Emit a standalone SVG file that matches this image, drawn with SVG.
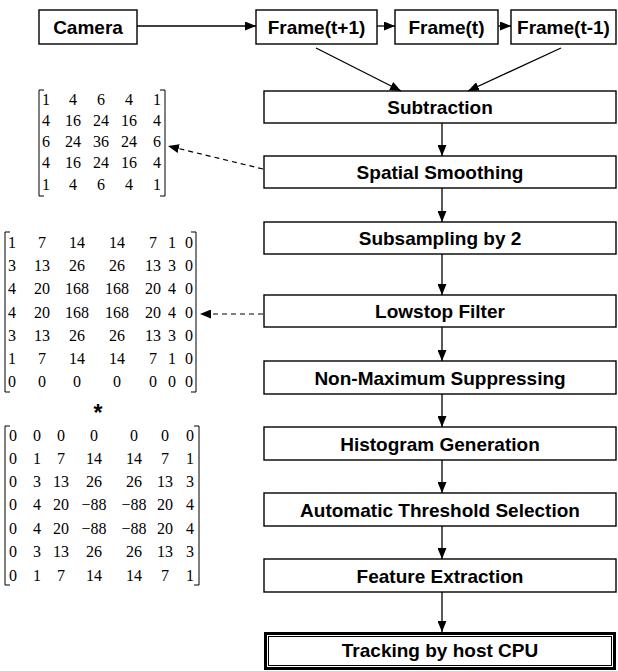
<svg xmlns="http://www.w3.org/2000/svg" width="618" height="671" viewBox="0 0 618 671">
  <style>
    .box { fill: #ffffff; stroke: #000000; stroke-width: 1.4; }
    .lbl { font-family: "Liberation Sans", Arial, sans-serif; font-weight: bold; font-size: 19px; fill: #000000; text-anchor: middle; }
    .m { font-family: "Liberation Serif", "Times New Roman", serif; font-size: 16px; fill: #000000; text-anchor: middle; }
    .br { fill: none; stroke: #000000; stroke-width: 1; }
    .wire { fill: none; stroke: #000000; stroke-width: 1.3; }
    .dash { fill: none; stroke: #000000; stroke-width: 1.2; stroke-dasharray: 5 4; }
  </style>
  <defs>
    <marker id="arr" markerUnits="userSpaceOnUse" markerWidth="11" markerHeight="9" refX="11" refY="4.5" orient="auto">
      <path d="M0,0 L11,4.5 L0,9 z" fill="#000000"/>
    </marker>
  </defs>

  <rect width="618" height="671" fill="#ffffff"/>

  <!-- input stage -->
  <g id="camera">
    <rect class="box" x="39" y="10" width="98" height="34"/>
    <text class="lbl" x="88" y="34">Camera</text>
  </g>
  <g id="frame-t-plus-1">
    <rect class="box" x="256" y="10" width="121" height="34"/>
    <text class="lbl" x="316.5" y="34">Frame(t+1)</text>
  </g>
  <g id="frame-t">
    <rect class="box" x="395" y="10" width="103" height="34"/>
    <text class="lbl" x="446.5" y="34">Frame(t)</text>
  </g>
  <g id="frame-t-minus-1">
    <rect class="box" x="511" y="10" width="105" height="34"/>
    <text class="lbl" x="563.5" y="34">Frame(t-1)</text>
  </g>

  <!-- processing pipeline -->
  <g id="subtraction">
    <rect class="box" x="264" y="91" width="352" height="32"/>
    <text class="lbl" x="440" y="114">Subtraction</text>
  </g>
  <g id="spatial-smoothing">
    <rect class="box" x="264" y="156" width="352" height="32"/>
    <text class="lbl" x="440" y="179">Spatial Smoothing</text>
  </g>
  <g id="subsampling">
    <rect class="box" x="264" y="222" width="352" height="32"/>
    <text class="lbl" x="440" y="245">Subsampling by 2</text>
  </g>
  <g id="lowstop-filter">
    <rect class="box" x="264" y="295" width="352" height="32"/>
    <text class="lbl" x="440" y="318">Lowstop Filter</text>
  </g>
  <g id="non-maximum">
    <rect class="box" x="264" y="361" width="352" height="33"/>
    <text class="lbl" x="440" y="384.5">Non-Maximum Suppressing</text>
  </g>
  <g id="histogram">
    <rect class="box" x="264" y="427" width="352" height="33"/>
    <text class="lbl" x="440" y="450.5">Histogram Generation</text>
  </g>
  <g id="threshold">
    <rect class="box" x="264" y="493" width="352" height="33"/>
    <text class="lbl" x="440" y="516.5">Automatic Threshold Selection</text>
  </g>
  <g id="feature-extraction">
    <rect class="box" x="264" y="559" width="352" height="33"/>
    <text class="lbl" x="440" y="582.5">Feature Extraction</text>
  </g>
  <g id="tracking">
    <rect x="265.5" y="633.5" width="349" height="35" fill="#ffffff" stroke="#000000" stroke-width="3"/>
    <rect x="268.5" y="636.5" width="343" height="29" fill="none" stroke="#000000" stroke-width="1"/>
    <text class="lbl" x="440" y="657">Tracking by host CPU</text>
  </g>

  <!-- smoothing kernel -->
  <g id="smoothing-kernel">
    <path class="br" d="M44,90 H39 V196 H44 M160,90 H165 V196 H160"/>
    <text class="m" y="105"><tspan x="46">1</tspan><tspan x="73">4</tspan><tspan x="101">6</tspan><tspan x="129">4</tspan><tspan x="157">1</tspan></text>
    <text class="m" y="126"><tspan x="46">4</tspan><tspan x="73">16</tspan><tspan x="101">24</tspan><tspan x="129">16</tspan><tspan x="157">4</tspan></text>
    <text class="m" y="147"><tspan x="46">6</tspan><tspan x="73">24</tspan><tspan x="101">36</tspan><tspan x="129">24</tspan><tspan x="157">6</tspan></text>
    <text class="m" y="168"><tspan x="46">4</tspan><tspan x="73">16</tspan><tspan x="101">24</tspan><tspan x="129">16</tspan><tspan x="157">4</tspan></text>
    <text class="m" y="190"><tspan x="46">1</tspan><tspan x="73">4</tspan><tspan x="101">6</tspan><tspan x="129">4</tspan><tspan x="157">1</tspan></text>
  </g>

  <!-- lowstop kernel, first operand -->
  <g id="lowstop-kernel-a">
    <path class="br" d="M10,232 H5 V392 H10 M191,232 H196 V392 H191"/>
    <text class="m" y="248"><tspan x="12">1</tspan><tspan x="42">7</tspan><tspan x="77">14</tspan><tspan x="117">14</tspan><tspan x="153">7</tspan><tspan x="172">1</tspan><tspan x="189">0</tspan></text>
    <text class="m" y="271"><tspan x="12">3</tspan><tspan x="42">13</tspan><tspan x="77">26</tspan><tspan x="117">26</tspan><tspan x="153">13</tspan><tspan x="172">3</tspan><tspan x="189">0</tspan></text>
    <text class="m" y="294"><tspan x="12">4</tspan><tspan x="42">20</tspan><tspan x="77">168</tspan><tspan x="117">168</tspan><tspan x="153">20</tspan><tspan x="172">4</tspan><tspan x="189">0</tspan></text>
    <text class="m" y="318"><tspan x="12">4</tspan><tspan x="42">20</tspan><tspan x="77">168</tspan><tspan x="117">168</tspan><tspan x="153">20</tspan><tspan x="172">4</tspan><tspan x="189">0</tspan></text>
    <text class="m" y="341"><tspan x="12">3</tspan><tspan x="42">13</tspan><tspan x="77">26</tspan><tspan x="117">26</tspan><tspan x="153">13</tspan><tspan x="172">3</tspan><tspan x="189">0</tspan></text>
    <text class="m" y="364"><tspan x="12">1</tspan><tspan x="42">7</tspan><tspan x="77">14</tspan><tspan x="117">14</tspan><tspan x="153">7</tspan><tspan x="172">1</tspan><tspan x="189">0</tspan></text>
    <text class="m" y="387"><tspan x="12">0</tspan><tspan x="42">0</tspan><tspan x="77">0</tspan><tspan x="117">0</tspan><tspan x="153">0</tspan><tspan x="172">0</tspan><tspan x="189">0</tspan></text>
  </g>

  <text id="convolve" x="98" y="421" font-family="Liberation Sans, Arial, sans-serif" font-weight="bold" font-size="23" text-anchor="middle">*</text>

  <!-- lowstop kernel, second operand -->
  <g id="lowstop-kernel-b">
    <path class="br" d="M10,426 H5 V585 H10 M194,426 H199 V585 H194"/>
    <text class="m" y="441"><tspan x="13">0</tspan><tspan x="37">0</tspan><tspan x="61">0</tspan><tspan x="94">0</tspan><tspan x="134">0</tspan><tspan x="165">0</tspan><tspan x="190">0</tspan></text>
    <text class="m" y="464"><tspan x="13">0</tspan><tspan x="37">1</tspan><tspan x="61">7</tspan><tspan x="94">14</tspan><tspan x="134">14</tspan><tspan x="165">7</tspan><tspan x="190">1</tspan></text>
    <text class="m" y="487"><tspan x="13">0</tspan><tspan x="37">3</tspan><tspan x="61">13</tspan><tspan x="94">26</tspan><tspan x="134">26</tspan><tspan x="165">13</tspan><tspan x="190">3</tspan></text>
    <text class="m" y="510"><tspan x="13">0</tspan><tspan x="37">4</tspan><tspan x="61">20</tspan><tspan x="94">−88</tspan><tspan x="134">−88</tspan><tspan x="165">20</tspan><tspan x="190">4</tspan></text>
    <text class="m" y="534"><tspan x="13">0</tspan><tspan x="37">4</tspan><tspan x="61">20</tspan><tspan x="94">−88</tspan><tspan x="134">−88</tspan><tspan x="165">20</tspan><tspan x="190">4</tspan></text>
    <text class="m" y="557"><tspan x="13">0</tspan><tspan x="37">3</tspan><tspan x="61">13</tspan><tspan x="94">26</tspan><tspan x="134">26</tspan><tspan x="165">13</tspan><tspan x="190">3</tspan></text>
    <text class="m" y="581"><tspan x="13">0</tspan><tspan x="37">1</tspan><tspan x="61">7</tspan><tspan x="94">14</tspan><tspan x="134">14</tspan><tspan x="165">7</tspan><tspan x="190">1</tspan></text>
  </g>

  <!-- connectors -->
  <g id="connectors">
    <line class="wire" x1="137" y1="26" x2="256" y2="26" marker-end="url(#arr)"/>
    <line class="wire" x1="377" y1="26" x2="395" y2="26" marker-end="url(#arr)"/>
    <line class="wire" x1="498" y1="26" x2="511" y2="26" marker-end="url(#arr)"/>
    <line class="wire" x1="316" y1="48" x2="401" y2="91" marker-end="url(#arr)"/>
    <line class="wire" x1="561" y1="48" x2="468" y2="91" marker-end="url(#arr)"/>
    <line class="wire" x1="442" y1="123" x2="442" y2="156" marker-end="url(#arr)"/>
    <line class="wire" x1="442" y1="188" x2="442" y2="222" marker-end="url(#arr)"/>
    <line class="wire" x1="442" y1="254" x2="442" y2="295" marker-end="url(#arr)"/>
    <line class="wire" x1="442" y1="327" x2="442" y2="361" marker-end="url(#arr)"/>
    <line class="wire" x1="442" y1="394" x2="442" y2="427" marker-end="url(#arr)"/>
    <line class="wire" x1="442" y1="460" x2="442" y2="493" marker-end="url(#arr)"/>
    <line class="wire" x1="442" y1="526" x2="442" y2="559" marker-end="url(#arr)"/>
    <line class="wire" x1="442" y1="592" x2="442" y2="632" marker-end="url(#arr)"/>
    <line class="dash" x1="263" y1="169" x2="168" y2="146" marker-end="url(#arr)"/>
    <line class="dash" x1="263" y1="314" x2="200" y2="314" marker-end="url(#arr)"/>
  </g>
</svg>
